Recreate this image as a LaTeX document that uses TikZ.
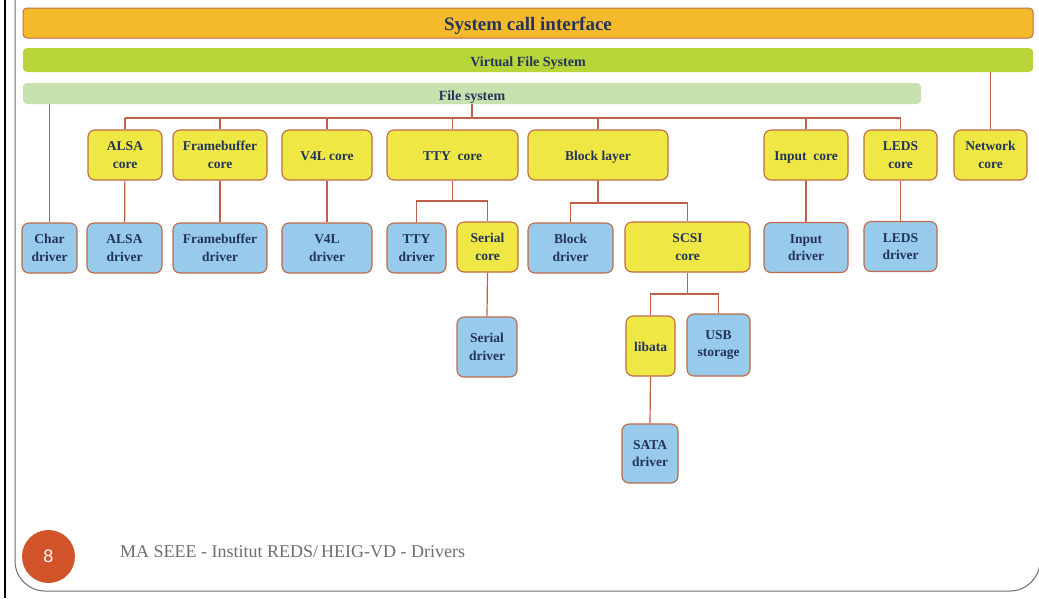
\documentclass[tikz,border=0pt]{standalone}
\usepackage{fontspec}
\setmainfont{Liberation Serif}
\newfontfamily\numfont{Liberation Sans}
\definecolor{barorange}{HTML}{F5BA2B}
\definecolor{vfsgreen}{HTML}{B8D539}
\definecolor{fsgreen}{HTML}{C8E2AF}
\definecolor{coreyellow}{HTML}{EFE844}
\definecolor{drvblue}{HTML}{97CAEB}
\definecolor{edge}{HTML}{C06A48}
\definecolor{wire}{HTML}{C0604A}
\definecolor{ink}{HTML}{23335A}
\definecolor{badge}{HTML}{D0532A}
\definecolor{foot}{HTML}{6E6E6E}
\tikzset{
  box/.style={draw=edge, line width=1.1pt, rounded corners=7pt, align=center,
    inner sep=0pt, text=ink, font=\fontsize{13.5}{17.5}\selectfont\bfseries},
  corebox/.style={box, fill=coreyellow},
  drvbox/.style={box, fill=drvblue},
  oneline/.style={text height=10pt, text depth=0pt},
  bar/.style={inner sep=0pt, rounded corners=4pt, text=ink, text depth=0pt,
    font=\fontsize{14}{16}\selectfont\bfseries},
  wirestyle/.style={draw=wire, line width=1.2pt},
}
\begin{document}
\begin{tikzpicture}[x=1pt, y=-1pt]
\useasboundingbox (0,0) rectangle (1039,598);
\fill[white] (0,0) rectangle (1039,598);

% slide frame
\draw[black, line width=2.4pt] (5,0) -- (5,598);
\draw[gray!85!black, line width=1pt] (15,0) -- (15,561) arc[start angle=180, end angle=90, radius=30]
  -- (1010,591) arc[start angle=90, end angle=0, radius=30] -- (1040,540);

% layer bars
\node[bar, draw=edge, line width=1pt, fill=barorange, minimum width=1010pt, minimum height=30pt,
  text height=14pt, font=\fontsize{19}{21}\selectfont\bfseries] (sci) at (528,23) {System call interface};
\node[bar, fill=vfsgreen, minimum width=1010pt, minimum height=24pt, text height=12pt]
  (vfs) at (528,60) {Virtual File System};
\node[bar, fill=fsgreen, minimum width=898pt, minimum height=21pt, text height=13pt]
  (fs) at (472,93.5) {File system};

% core row
\node[corebox, minimum width=74pt, minimum height=50pt] (alsac) at (125,155) {ALSA\\core};
\node[corebox, minimum width=94pt, minimum height=50pt] (fbc) at (220,155) {Framebuffer\\core};
\node[corebox, oneline, minimum width=90pt, minimum height=50pt] (v4lc) at (327,155) {V4L core};
\node[corebox, oneline, minimum width=131pt, minimum height=50pt] (ttyc) at (452.5,155) {TTY\ \ core};
\node[corebox, oneline, minimum width=140pt, minimum height=50pt] (blk) at (598,155) {Block layer};
\node[corebox, oneline, minimum width=84pt, minimum height=50pt] (inc) at (806,155) {Input\ \ core};
\node[corebox, minimum width=73pt, minimum height=50pt] (ledc) at (900.5,155) {LEDS\\core};
\node[corebox, minimum width=73pt, minimum height=50pt] (netc) at (990.5,155) {Network\\core};

% driver row
\node[drvbox, minimum width=55pt, minimum height=50pt] (chard) at (49.5,248) {Char\\driver};
\node[drvbox, minimum width=75pt, minimum height=50pt] (alsad) at (124.5,248) {ALSA\\driver};
\node[drvbox, minimum width=94pt, minimum height=50pt] (fbd) at (220,248) {Framebuffer\\driver};
\node[drvbox, minimum width=90pt, minimum height=50pt] (v4ld) at (327,248) {V4L\\driver};
\node[drvbox, minimum width=59pt, minimum height=50pt] (ttyd) at (416.5,248) {TTY\\driver};
\node[corebox, minimum width=61pt, minimum height=50pt] (serc) at (487.5,247) {Serial\\core};
\node[drvbox, minimum width=85pt, minimum height=50pt] (blkd) at (570.5,248) {Block\\driver};
\node[corebox, minimum width=125pt, minimum height=50pt] (scsi) at (687.5,247) {SCSI\\core};
\node[drvbox, minimum width=84pt, minimum height=50pt] (ind) at (806,247.5) {Input\\driver};
\node[drvbox, minimum width=73pt, minimum height=50pt] (ledd) at (900.5,246.5) {LEDS\\driver};

% lower levels
\node[drvbox, minimum width=60pt, minimum height=60pt] (serd) at (487,347) {Serial\\driver};
\node[corebox, oneline, minimum width=49pt, minimum height=60pt] (libata) at (650.5,346) {libata};
\node[drvbox, minimum width=63pt, minimum height=62pt] (usb) at (718.5,345) {USB\\storage};
\node[drvbox, minimum width=56pt, minimum height=59pt] (sata) at (650,453.5) {SATA\\driver};

% junction levels
\coordinate (bus) at (0,118);
\coordinate (ttyj) at (0,201);
\coordinate (blkj) at (0,203);
\coordinate (scsij) at (0,294);

% connectors
\draw[wirestyle] (fs.south) -- (fs.south |- bus);
\draw[wirestyle] (alsac.north |- bus) -- (ledc.north |- bus);
\foreach \n in {alsac,fbc,v4lc,ttyc,blk,inc,ledc}
  \draw[wirestyle] (\n.north |- bus) -- (\n.north);
\draw[wirestyle] (chard.north) -- (chard.north |- fs.south);
\draw[wirestyle] (netc.north) -- (netc.north |- vfs.south);
\draw[wirestyle] (alsac) -- (alsad);
\draw[wirestyle] (fbc) -- (fbd);
\draw[wirestyle] (v4lc) -- (v4ld);
\draw[wirestyle] (inc) -- (ind);
\draw[wirestyle] (ledc) -- (ledd);
\draw[wirestyle] (ttyc.south) -- (ttyc.south |- ttyj);
\draw[wirestyle] (ttyd.north) |- (serc.north |- ttyj) -- (serc.north);
\draw[wirestyle] (blk.south) -- (blk.south |- blkj);
\draw[wirestyle] (blkd.north) |- (scsi.north |- blkj) -- (scsi.north);
\draw[wirestyle] (serc.south) -- (serd.north);
\draw[wirestyle] (scsi.south) -- (scsi.south |- scsij);
\draw[wirestyle] (libata.north) |- (usb.north |- scsij) -- (usb.north);
\draw[wirestyle] (libata.south) -- (sata.north);

% footer
\node[circle, fill=badge, minimum size=53pt, inner sep=0pt, text=white,
  font=\numfont\fontsize{18}{20}\selectfont] (page) at (48.5,556.5) {8};
\node[anchor=base west, inner sep=0pt, text=foot, font=\fontsize{18}{20}\selectfont] (credit)
  at (120,557) {MA SEEE - Institut REDS/\,HEIG-VD - Drivers};
\end{tikzpicture}
\end{document}
